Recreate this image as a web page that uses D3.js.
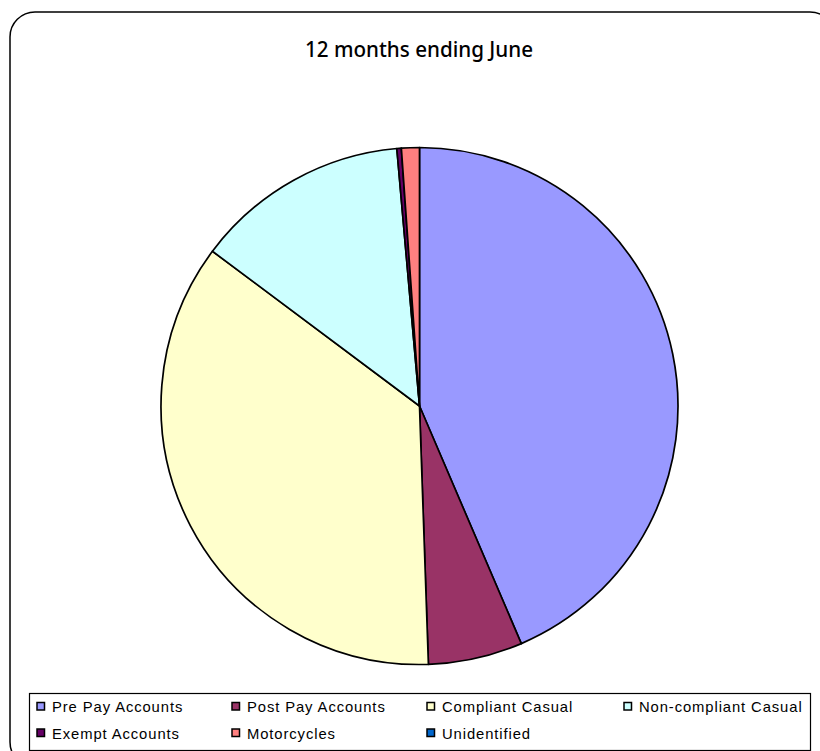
<!DOCTYPE html>
<html>
<head>
<meta charset="utf-8">
<script src="https://cdn.jsdelivr.net/npm/d3@7"></script>
<style>
html,body{margin:0;padding:0;background:#fff;}
svg{display:block;}
</style>
</head>
<body>
<svg id="chart" width="820" height="751"></svg>
<script>
const title = "12 months ending June";
const categories = ["Pre Pay Accounts","Post Pay Accounts","Compliant Casual","Non-compliant Casual","Exempt Accounts","Motorcycles","Unidentified"];
const values = [43.6, 5.9, 35.8, 13.4, 0.28, 1.12, 0];
const colors = ["#9999FF","#993366","#FFFFCC","#CCFFFF","#660066","#FF8080","#0066CC"];

const svg = d3.select("#chart");

// outer frame
svg.append("rect").attr("x",10).attr("y",12).attr("width",825).attr("height",755)
  .attr("rx",25).attr("ry",25).attr("fill","#fff").attr("stroke","#000").attr("stroke-width",1.5);

svg.append("text").attr("x",419).attr("y",57).attr("text-anchor","middle")
  .attr("font-family","'Noto Sans', 'Open Sans', sans-serif").attr("font-size",21)
  .attr("font-weight",500)
  .attr("textLength",228).attr("lengthAdjust","spacingAndGlyphs")
  .attr("fill","#000").text(title);

const data = categories.map((c,i)=>({name:c,value:values[i],color:colors[i]}));
const pie = d3.pie().value(d=>d.value).sort(null);
const arc = d3.arc().innerRadius(0).outerRadius(258.5);
const g = svg.append("g").attr("transform","translate(419.5,406)");
g.selectAll("path").data(pie(data).filter(d=>d.data.value>0)).join("path")
  .attr("d",arc).attr("fill",d=>d.data.color)
  .attr("stroke","#000").attr("stroke-width",1.7).attr("stroke-linejoin","round");

// legend
svg.append("rect").attr("x",29.5).attr("y",693.5).attr("width",781).attr("height",57)
  .attr("fill","#fff").attr("stroke","#000").attr("stroke-width",1.2);

const colX = [37,232,427,624];
const rowY = [702.5,729];
const lg = svg.append("g");
const items = lg.selectAll("g").data(data).join("g")
  .attr("transform",(d,i)=>`translate(${colX[i%4]},${rowY[Math.floor(i/4)]})`);
items.append("rect").attr("x",0).attr("y",0).attr("width",7.5).attr("height",7.5)
  .attr("fill",d=>d.color).attr("stroke","#000").attr("stroke-width",1.5);
items.append("text").attr("x",15).attr("y",9.5)
  .attr("font-family","'Liberation Sans', Arial, sans-serif").attr("font-size",14.8)
  .attr("letter-spacing","0.9px").attr("fill","#000").text(d=>d.name);
</script>
</body>
</html>
